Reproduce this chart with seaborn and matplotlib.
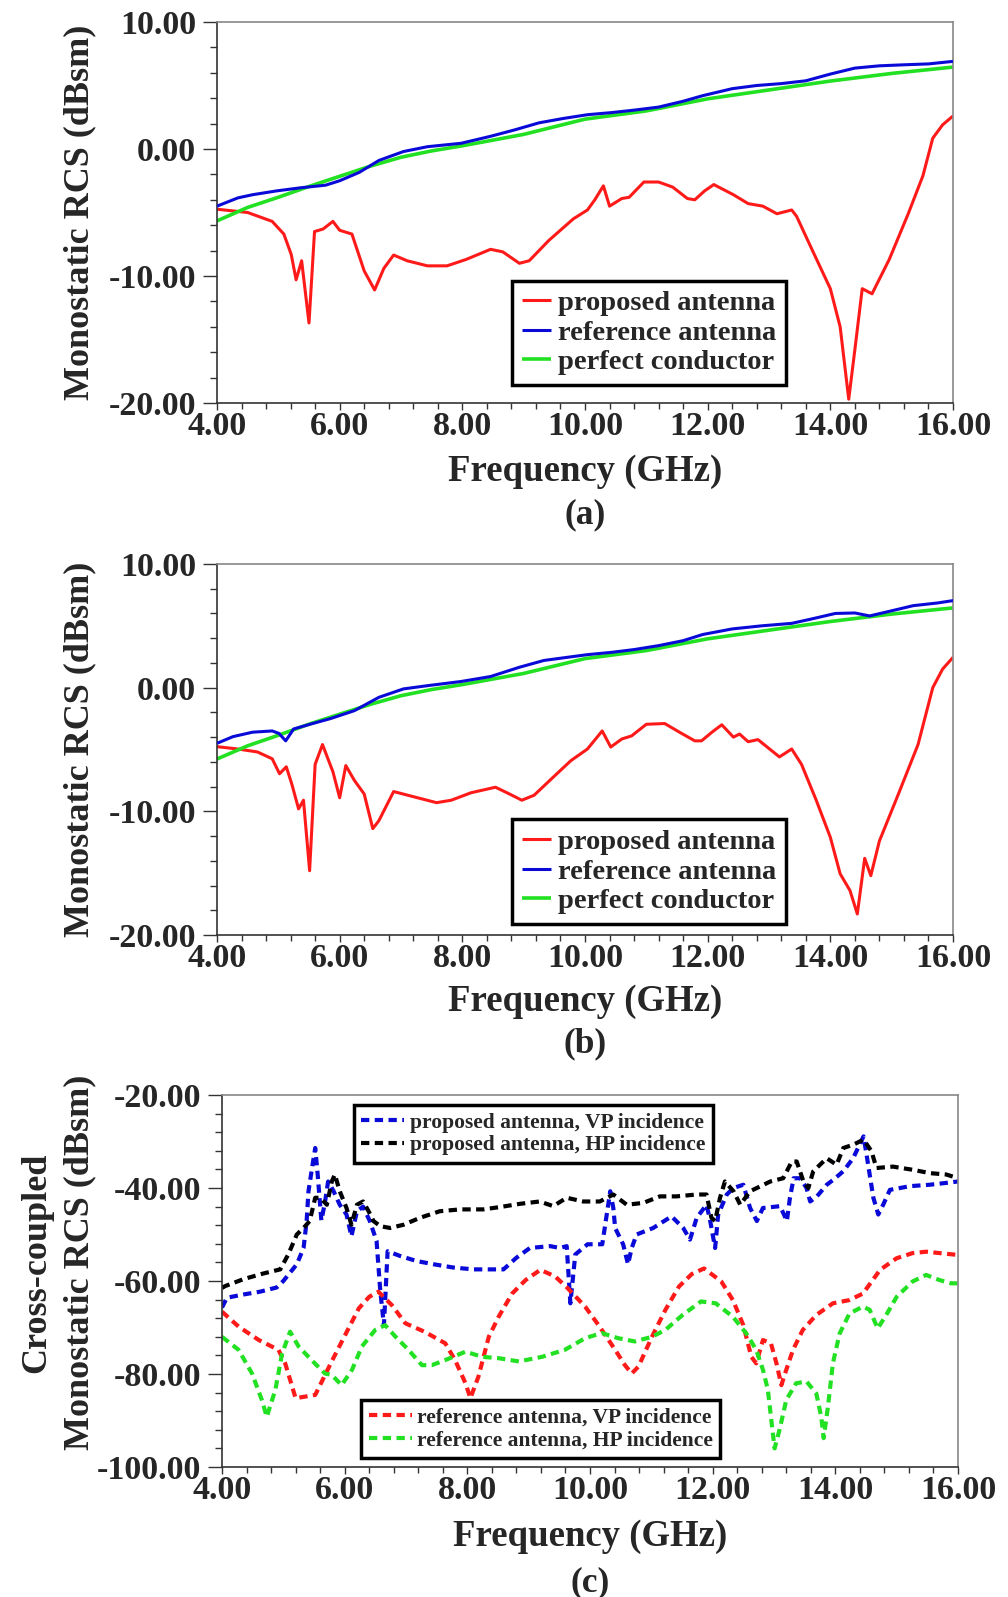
import matplotlib
matplotlib.use("Agg")
import matplotlib.pyplot as plt
from matplotlib.ticker import MultipleLocator, FormatStrFormatter
import seaborn as sns

# ---------------- (a) monostatic RCS, first configuration ----------------
freq_a_prop = [4.0, 4.5, 4.9, 5.09, 5.21, 5.29, 5.38, 5.5, 5.59, 5.73, 5.89, 6.0, 6.2, 6.4,
               6.57, 6.72, 6.88, 7.1, 7.43, 7.75, 8.06, 8.46, 8.66, 8.93, 9.09, 9.41, 9.81,
               10.04, 10.16, 10.3, 10.4, 10.6, 10.72, 10.96, 11.2, 11.43, 11.67, 11.79, 11.95,
               12.1, 12.42, 12.66, 12.9, 13.13, 13.37, 13.45, 13.69, 14.0, 14.16, 14.3, 14.4,
               14.52, 14.68, 14.96, 15.27, 15.51, 15.67, 15.83, 16.0]
rcs_a_prop = [-4.74, -5.0, -5.7, -6.7, -8.3, -10.3, -8.8, -13.7, -6.5, -6.3, -5.7, -6.4, -6.7, -9.6,
              -11.1, -9.4, -8.35, -8.8, -9.2, -9.2, -8.7, -7.9, -8.1, -9.0, -8.8, -7.2, -5.5,
              -4.8, -4.0, -2.9, -4.5, -3.9, -3.8, -2.6, -2.6, -3.0, -3.9, -4.0, -3.3,
              -2.8, -3.6, -4.3, -4.5, -5.1, -4.8, -5.3, -7.8, -11.0, -14.0, -19.7, -15.8,
              -11.0, -11.4, -8.7, -5.1, -2.1, 0.85, 1.9, 2.6]

freq_a_ref = [4.0, 4.34, 4.58, 4.97, 5.37, 5.77, 6.0, 6.32, 6.64, 7.04, 7.43, 7.98, 8.46, 8.85,
              9.25, 9.64, 10.04, 10.44, 10.8, 11.2, 11.6, 11.92, 12.4, 12.8, 13.2, 13.6, 14.0,
              14.4, 14.8, 15.2, 15.6, 16.0]
rcs_a_ref = [-4.5, -3.85, -3.6, -3.3, -3.05, -2.85, -2.5, -1.84, -0.9, -0.2, 0.18, 0.45, 1.0, 1.5,
             2.06, 2.4, 2.7, 2.87, 3.06, 3.3, 3.76, 4.2, 4.75, 5.0, 5.15, 5.37, 5.9,
             6.37, 6.55, 6.63, 6.7, 6.9]

freq_pec = [4.0, 4.5, 5.0, 5.5, 6.0, 6.5, 7.0, 7.5, 8.0, 9.0, 10.0, 11.0, 12.0, 13.0, 14.0, 15.0, 16.0]
rcs_a_pec = [-5.66, -4.6, -3.8, -2.95, -2.15, -1.35, -0.65, -0.15, 0.25, 1.15, 2.35, 3.0, 3.95,
             4.65, 5.35, 5.95, 6.45]

# ---------------- (b) monostatic RCS, second configuration ----------------
freq_b_prop = [4.0, 4.34, 4.66, 4.9, 5.02, 5.13, 5.22, 5.33, 5.41, 5.51, 5.6, 5.72, 5.89, 6.0,
               6.1, 6.24, 6.4, 6.54, 6.64, 6.88, 7.19, 7.58, 7.82, 8.14, 8.54, 8.77, 8.97, 9.17,
               9.49, 9.77, 10.04, 10.28, 10.42, 10.6, 10.76, 11.0, 11.3, 11.54, 11.79, 11.9,
               12.07, 12.23, 12.42, 12.52, 12.66, 12.82, 12.97, 13.17, 13.37, 13.53, 13.77,
               14.0, 14.16, 14.32, 14.44, 14.56, 14.66, 14.8, 15.11, 15.43, 15.67, 15.83, 16.0]
rcs_b_prop = [-4.77, -4.96, -5.2, -5.75, -6.96, -6.4, -7.8, -9.8, -9.1, -14.8, -6.2, -4.6, -6.8, -8.9,
              -6.3, -7.5, -8.6, -11.4, -10.75, -8.4, -8.8, -9.3, -9.1, -8.5, -8.05, -8.6, -9.1, -8.7,
              -7.2, -5.9, -4.96, -3.5, -4.8, -4.15, -3.9, -2.96, -2.9, -3.6, -4.3, -4.3,
              -3.6, -3.0, -4.0, -3.75, -4.37, -4.2, -4.8, -5.6, -4.96, -6.2, -9.1,
              -12.1, -15.05, -16.4, -18.3, -13.8, -15.2, -12.4, -8.6, -4.6, 0.0, 1.5, 2.45]

freq_b_ref = [4.0, 4.26, 4.58, 4.9, 5.01, 5.12, 5.25, 5.53, 5.85, 6.24, 6.64, 7.04, 7.43, 7.98,
              8.46, 8.93, 9.33, 9.72, 10.04, 10.44, 10.8, 11.2, 11.6, 11.92, 12.4, 12.88, 13.37,
              13.69, 14.08, 14.4, 14.64, 14.96, 15.35, 15.75, 16.0]
rcs_b_ref = [-4.5, -3.96, -3.6, -3.5, -3.7, -4.3, -3.34, -2.94, -2.5, -1.86, -0.78, -0.1, 0.16, 0.5,
             0.9, 1.65, 2.2, 2.46, 2.67, 2.86, 3.08, 3.4, 3.8, 4.3, 4.75, 5.0, 5.2,
             5.55, 6.0, 6.04, 5.8, 6.17, 6.63, 6.85, 7.04]

rcs_b_pec = [-5.77, -4.7, -3.85, -2.95, -2.15, -1.35, -0.65, -0.15, 0.25, 1.15, 2.35, 3.0, 3.95,
             4.65, 5.35, 5.95, 6.45]

# ---------------- (c) cross-coupled monostatic RCS ----------------
freq_c_prop_vp = [4.0, 4.08, 4.35, 4.62, 4.89, 5.0, 5.22, 5.33, 5.38, 5.41, 5.46, 5.52, 5.56, 5.62,
                  5.68, 5.73, 5.82, 5.92, 6.03, 6.11, 6.2, 6.3, 6.41, 6.52, 6.58, 6.64, 6.7, 6.9,
                  7.17, 7.45, 7.77, 8.1, 8.59, 8.8, 9.02, 9.35, 9.51, 9.62, 9.68, 9.76, 9.96,
                  10.2, 10.33, 10.38, 10.41, 10.54, 10.62, 10.68, 10.76, 11.03, 11.33, 11.52,
                  11.63, 11.74, 11.9, 11.96, 12.04, 12.09, 12.23, 12.34, 12.5, 12.61, 12.72,
                  12.82, 13.1, 13.21, 13.26, 13.32, 13.43, 13.53, 13.59, 13.7, 13.86, 13.97,
                  14.13, 14.29, 14.46, 14.51, 14.56, 14.62, 14.7, 14.78, 14.89, 15.22, 15.54,
                  15.81, 16.0]
rcs_c_prop_vp = [-65.7, -63.6, -62.9, -62.3, -61.4, -60, -56.4, -52.9, -47.1, -40.7, -36.4, -31.4,
                 -37.1, -47, -43, -38.6, -40.7, -43.6, -45.7, -50.4, -45, -44, -47.1, -51.4, -62,
                 -69.5, -53.6, -54.6, -55.7, -56.4, -57.1, -57.5, -57.5, -55, -52.9, -52.5, -52.9,
                 -52.5, -64.8, -54.3, -52.1, -52.1, -40.7, -44.3, -48.6, -52.1, -56.4, -52.9, -50,
                 -48.6, -46.1, -48.6, -51.1, -46.4, -43.6, -47.1, -52.9, -45.7, -41.4, -40, -39.3,
                 -44.3, -47.1, -44.3, -43.9, -47.1, -42.1, -37.9, -37.9, -40, -42.9, -41.8, -39.3,
                 -38.2, -36.4, -33.6, -28.9, -32.9, -37.1, -42.1, -45.7, -43.6, -40.4, -39.6,
                 -39.3, -38.9, -38.6]

freq_c_prop_hp = [4.0, 4.05, 4.35, 4.67, 4.95, 5.08, 5.22, 5.33, 5.43, 5.52, 5.6, 5.71, 5.79, 5.84,
                  5.92, 6.03, 6.11, 6.2, 6.3, 6.39, 6.47, 6.58, 6.74, 6.96, 7.23, 7.55, 7.88, 8.26,
                  8.53, 8.86, 9.18, 9.4, 9.62, 9.89, 10.16, 10.38, 10.6, 10.87, 11.14, 11.41,
                  11.74, 11.9, 11.98, 12.04, 12.12, 12.2, 12.34, 12.45, 12.61, 12.72, 12.94,
                  13.15, 13.29, 13.37, 13.48, 13.56, 13.64, 13.86, 14.02, 14.13, 14.29, 14.46,
                  14.59, 14.67, 14.94, 15.27, 15.54, 15.81, 16.0]
rcs_c_prop_hp = [-61.5, -61.1, -59.6, -58.4, -57.5, -54.3, -50, -48.6, -47.1, -42.1, -42.1, -43.6,
                 -38.6, -37.1, -40.7, -44.3, -47.9, -43.6, -42.9, -45, -47.1, -48.2, -48.6, -47.9,
                 -46.4, -45, -44.6, -44.6, -44.1, -43.4, -42.9, -43.9, -42.1, -42.9, -42.9, -41.4,
                 -43.6, -43.2, -41.8, -41.8, -41.4, -41.4, -46.4, -47.1, -42.1, -38.6, -40.7,
                 -43.6, -40.7, -40, -38.6, -37.9, -34.3, -34.3, -38.6, -40, -36.4, -33.6, -35,
                 -31.4, -30.7, -29.6, -32.1, -35.7, -35.4, -36.1, -36.8, -37.1, -37.9]

freq_c_ref_vp = [4.0, 4.27, 4.6, 4.92, 5.03, 5.2, 5.52, 5.8, 6.02, 6.23, 6.4, 6.55, 6.77, 6.99,
                 7.3, 7.64, 7.8, 7.97, 8.05, 8.18, 8.35, 8.51, 8.73, 8.95, 9.19, 9.43, 9.64,
                 9.92, 10.14, 10.41, 10.57, 10.68, 10.79, 11.01, 11.23, 11.45, 11.66, 11.86,
                 12.14, 12.33, 12.5, 12.63, 12.71, 12.82, 12.95, 13.04, 13.12, 13.2, 13.31,
                 13.47, 13.69, 13.96, 14.23, 14.45, 14.73, 15.0, 15.26, 15.48, 15.7, 16.0]
rcs_c_ref_vp = [-66.6, -69.8, -72.7, -74.8, -77.7, -85.2, -84.5, -77, -71.3, -65.9, -63.4, -62.3,
                -65.2, -69.1, -70.9, -73.4, -77, -82, -85.2, -80.6, -72, -67.7, -62.7, -59.8,
                -57.6, -59, -61.6, -65.5, -69.5, -74.8, -78.1, -79.9, -78.4, -72, -66.2, -61.2,
                -58.5, -57.3, -60.1, -64.1, -69.5, -76.3, -77.7, -72.7, -73.4, -77.7, -82.4,
                -79.1, -74.8, -70.5, -67.3, -64.8, -64.1, -62.7, -57.6, -55.1, -54, -53.7, -54,
                -54.4]

freq_c_ref_hp = [4.0, 4.27, 4.49, 4.65, 4.73, 4.87, 4.98, 5.11, 5.25, 5.46, 5.68, 5.79, 5.95, 6.12,
                 6.28, 6.5, 6.66, 6.83, 7.04, 7.26, 7.42, 7.64, 7.97, 8.24, 8.51, 8.84, 9.22,
                 9.59, 9.92, 10.19, 10.46, 10.73, 11.01, 11.23, 11.51, 11.81, 12.05, 12.33,
                 12.55, 12.71, 12.82, 12.9, 12.95, 13.01, 13.09, 13.2, 13.36, 13.53, 13.69,
                 13.77, 13.81, 13.88, 13.96, 14.07, 14.23, 14.45, 14.56, 14.69, 14.83, 15.0,
                 15.26, 15.48, 15.7, 15.89, 16.0]
rcs_c_ref_hp = [-72, -74.8, -79.9, -85.6, -89.2, -83.4, -75.6, -70.9, -74.1, -77, -79.9, -80.2,
                -82.4, -79.1, -74.1, -70.5, -69.5, -72, -74.8, -78.1, -78.1, -77, -75.2, -76.3,
                -76.6, -77.3, -76.3, -74.8, -72.3, -71.2, -72.3, -73, -72, -70.5, -67.3, -64.4,
                -64.8, -67.7, -71.3, -74.8, -79.1, -83.4, -89.2, -96, -92, -85.6, -82, -81.6,
                -84.2, -89.2, -93.8, -87, -77.7, -71.3, -67, -65.5, -66.2, -70.2, -67.3, -63.4,
                -60.1, -58.7, -59.8, -60.5, -60.5]

labels_ab = ["proposed antenna", "reference antenna", "perfect conductor"]
labels_c_top = ["proposed antenna, VP incidence", "proposed antenna, HP incidence"]
labels_c_bot = ["reference antenna, VP incidence", "reference antenna, HP incidence"]

RED, BLUE, GREEN, BLACK = "#ff1a1a", "#0a0ad8", "#22e022", "#000000"

sns.set_theme(style="white")
plt.rcParams["font.family"] = ["Liberation Serif", "DejaVu Serif"]
plt.rcParams["font.weight"] = "bold"
plt.rcParams["axes.labelweight"] = "bold"

W, H = 1008, 1597
fig = plt.figure(figsize=(W / 100, H / 100), dpi=100)


def add_axes(left, top, right, bottom):
    return fig.add_axes([left / W, 1 - bottom / H, (right - left) / W, (bottom - top) / H])


def style_axes(ax, ylim, ymajor, yminor):
    ax.set_xlim(4, 16)
    ax.set_ylim(*ylim)
    ax.xaxis.set_major_locator(MultipleLocator(2))
    ax.xaxis.set_minor_locator(MultipleLocator(0.4))
    ax.yaxis.set_major_locator(MultipleLocator(ymajor))
    ax.yaxis.set_minor_locator(MultipleLocator(yminor))
    ax.xaxis.set_major_formatter(FormatStrFormatter("%.2f"))
    ax.yaxis.set_major_formatter(FormatStrFormatter("%.2f"))
    ax.tick_params(axis="x", which="major", direction="out", length=5, width=1,
                   pad=1, labelsize=24.5, color="#333333")
    ax.tick_params(axis="x", which="minor", direction="out", length=4, width=1, color="#333333")
    ax.tick_params(axis="y", which="major", direction="out", length=10, width=1,
                   pad=5, labelsize=24.5, color="#333333")
    ax.tick_params(axis="y", which="minor", direction="out", length=5, width=1, color="#333333")
    ax.tick_params(left=True, bottom=True, which="both")
    for side in ("left", "bottom"):
        ax.spines[side].set_color("#333333")
        ax.spines[side].set_linewidth(1.2)
    for side in ("top", "right"):
        ax.spines[side].set_color("#888888")
        ax.spines[side].set_linewidth(1.2)
    for lab in ax.get_xticklabels() + ax.get_yticklabels():
        lab.set_fontweight("bold")


def draw_line(ax, x, y, color, lw, dashed=False):
    sns.lineplot(x=x, y=y, ax=ax, color=color, linewidth=lw, legend=False,
                 estimator=None, sort=False)
    line = ax.lines[-1]
    if dashed:
        line.set_linestyle((0, (2.0, 1.3)))
        line.set_dash_capstyle("butt")
    return line


def legend_box(ax, handles, labels, loc, anchor, size, hlen):
    leg = ax.legend(handles=handles, labels=labels, loc=loc, bbox_to_anchor=anchor,
                    borderaxespad=0, frameon=True, fancybox=False, framealpha=1,
                    edgecolor="black", prop={"weight": "bold", "size": size},
                    handlelength=hlen, handletextpad=0.25, labelspacing=0.12,
                    borderpad=0.35)
    leg.get_frame().set_linewidth(2.5)
    return leg


def monostatic_panel(ax, fp, vp, fr, vr, vpec, tag):
    h1 = draw_line(ax, fp, vp, RED, 2.2)
    h2 = draw_line(ax, fr, vr, BLUE, 2.2)
    h3 = draw_line(ax, freq_pec, vpec, GREEN, 2.6)
    h2.set_zorder(3)
    style_axes(ax, (-20, 10), 10, 2)
    ax.set_xlabel("Frequency (GHz)", fontsize=26.5, fontweight="bold")
    ax.xaxis.set_label_coords(0.5, -0.18)
    ax.xaxis.label.set_va("center")
    ax.set_ylabel("Monostatic RCS (dBsm)", fontsize=26, fontweight="bold")
    ax.yaxis.set_label_coords(-0.186, 0.5)
    ax.yaxis.label.set_va("center")
    ax.text(0.5, -0.293, tag, transform=ax.transAxes, ha="center", va="center",
            fontsize=25.5, fontweight="bold")
    for ln in (h1, h2, h3):
        ln.set_solid_capstyle("butt")
    return [h1, h2, h3]


# panel (a)
ax_a = add_axes(217, 22, 953, 403)
hs = monostatic_panel(ax_a, freq_a_prop, rcs_a_prop, freq_a_ref, rcs_a_ref, rcs_a_pec, "(a)")
legend_box(ax_a, hs, labels_ab, "lower left", (0.401, 0.047), 20.5, 1.0)

# panel (b)
ax_b = add_axes(217, 564, 953, 935)
hs = monostatic_panel(ax_b, freq_b_prop, rcs_b_prop, freq_b_ref, rcs_b_ref, rcs_b_pec, "(b)")
legend_box(ax_b, hs, labels_ab, "lower left", (0.401, 0.030), 20.5, 1.0)

# panel (c)
ax_c = add_axes(222, 1095, 958, 1467)
h_pvp = draw_line(ax_c, freq_c_prop_vp, rcs_c_prop_vp, BLUE, 3.0, dashed=True)
h_php = draw_line(ax_c, freq_c_prop_hp, rcs_c_prop_hp, BLACK, 3.0, dashed=True)
h_rvp = draw_line(ax_c, freq_c_ref_vp, rcs_c_ref_vp, RED, 3.0, dashed=True)
h_rhp = draw_line(ax_c, freq_c_ref_hp, rcs_c_ref_hp, GREEN, 3.0, dashed=True)
style_axes(ax_c, (-100, -20), 20, 4)
ax_c.set_xlabel("Frequency (GHz)", fontsize=26.5, fontweight="bold")
ax_c.xaxis.set_label_coords(0.5, -0.188)
ax_c.xaxis.label.set_va("center")
ax_c.set_ylabel("Cross-coupled\nMonostatic RCS (dBsm)", fontsize=26, fontweight="bold",
                linespacing=1.4)
ax_c.yaxis.set_label_coords(-0.222, 0.55)
ax_c.yaxis.label.set_va("center")
ax_c.text(0.5, -0.31, "(c)", transform=ax_c.transAxes, ha="center", va="center",
          fontsize=25.5, fontweight="bold")

leg_top = legend_box(ax_c, [h_pvp, h_php], labels_c_top, "upper left", (0.179, 0.973), 15.5, 2.0)
ax_c.add_artist(leg_top)
legend_box(ax_c, [h_rvp, h_rhp], labels_c_bot, "lower left", (0.189, 0.024), 15.5, 2.0)

fig.savefig("out.png", dpi=100)
